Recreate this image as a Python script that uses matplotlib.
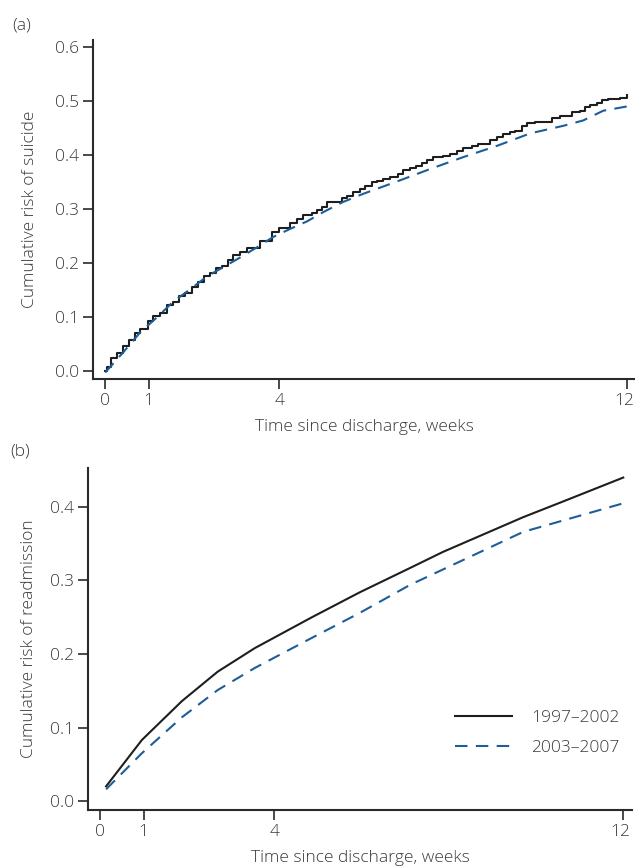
import matplotlib
matplotlib.use("Agg")
import matplotlib.pyplot as plt
import matplotlib.transforms as mtransforms
import numpy as np

plt.rcParams['font.family'] = ['Open Sans', 'DejaVu Sans']
plt.rcParams['font.weight'] = 'light'
plt.rcParams['axes.labelweight'] = 'light'

text_col = '#3a3a3a'
solid_col = '#1e1e1e'
dash_col = '#1d5e98'
fs = 12.5

# (a) cumulative risk of suicide, step curve for 1997-2002 (weeks, risk)
suicide_t_9702 = [0, 0.05, 0.14, 0.28, 0.41, 0.55, 0.69, 0.80, 0.99, 1.10, 1.26, 1.43, 1.56, 1.70,
                  1.84, 2.00, 2.14, 2.28, 2.41, 2.55, 2.69, 2.83, 2.94, 3.10, 3.26, 3.56, 3.84, 4.00,
                  4.25, 4.41, 4.55, 4.76, 4.87, 4.99, 5.10, 5.45, 5.56, 5.70, 5.86, 5.98, 6.14, 6.25,
                  6.39, 6.55, 6.74, 6.85, 7.01, 7.15, 7.29, 7.40, 7.54, 7.77, 7.93, 8.09, 8.23, 8.44,
                  8.57, 8.85, 9.01, 9.15, 9.31, 9.43, 9.59, 9.70, 9.89, 10.28, 10.46, 10.74, 10.92,
                  11.03, 11.15, 11.31, 11.43, 11.56, 11.84, 12.00]
suicide_y_9702 = [0, 0.007, 0.024, 0.034, 0.047, 0.058, 0.071, 0.078, 0.093, 0.101, 0.108, 0.123, 0.128, 0.138,
                  0.145, 0.156, 0.165, 0.175, 0.182, 0.190, 0.194, 0.205, 0.214, 0.220, 0.227, 0.240, 0.257, 0.264,
                  0.274, 0.281, 0.289, 0.292, 0.298, 0.304, 0.313, 0.320, 0.324, 0.331, 0.337, 0.343, 0.350, 0.352,
                  0.356, 0.359, 0.365, 0.372, 0.376, 0.380, 0.385, 0.391, 0.396, 0.398, 0.402, 0.408, 0.413, 0.417,
                  0.421, 0.428, 0.434, 0.438, 0.443, 0.445, 0.453, 0.460, 0.462, 0.469, 0.473, 0.480, 0.482,
                  0.488, 0.493, 0.497, 0.501, 0.503, 0.506, 0.512]

# (a) 2003-2007
suicide_t_0307 = [0, 0.41, 0.80, 1.20, 1.56, 1.95, 2.34, 2.71, 3.10, 3.49, 3.86, 4.25, 4.64, 5.01,
                  5.47, 5.93, 6.71, 7.47, 8.23, 9.01, 9.77, 10.53, 10.99, 11.45, 12.00]
suicide_y_0307 = [-0.003, 0.034, 0.071, 0.100, 0.128, 0.151, 0.175, 0.192, 0.210, 0.229, 0.248, 0.263, 0.277, 0.294,
                  0.313, 0.328, 0.351, 0.374, 0.396, 0.417, 0.440, 0.454, 0.464, 0.482, 0.490]

# (b) cumulative risk of readmission
readm_t_9702 = [0.14, 0.96, 1.88, 2.70, 3.55, 4.86, 5.96, 7.11, 7.87, 9.70, 10.6, 12.0]
readm_y_9702 = [0.020, 0.083, 0.136, 0.176, 0.208, 0.250, 0.284, 0.317, 0.339, 0.386, 0.407, 0.440]
readm_t_0307 = [0.14, 0.96, 1.88, 2.70, 3.55, 4.86, 5.96, 7.11, 9.70, 12.0]
readm_y_0307 = [0.016, 0.065, 0.114, 0.151, 0.181, 0.222, 0.256, 0.294, 0.366, 0.405]

x_ticks = [0, 1, 4, 12]
labels = ['1997\u20132002', '2003\u20132007']

fig = plt.figure(figsize=(6.35, 8.68), dpi=100)
ax_a = fig.add_axes([93/635, 1-379/868, (635-93)/635, (379-40)/868])
ax_b = fig.add_axes([88/635, 1-810/868, (632-88)/635, (810-468)/868])


def style_axis(ax):
    for s in ['top', 'right']:
        ax.spines[s].set_visible(False)
    for s in ['left', 'bottom']:
        ax.spines[s].set_linewidth(1.5)
        ax.spines[s].set_color('#2a2a2a')
    ax.tick_params(direction='out', length=7, width=1.2, color='#2a2a2a',
                   labelsize=fs, labelcolor=text_col, pad=3)
    ax.set_xticks(x_ticks)
    ax.set_xticklabels([str(t) for t in x_ticks])
    ax.set_xlabel('Time since discharge, weeks', fontsize=fs, color=text_col, labelpad=7)
    # last tick label sits at the figure edge, nudge it left a touch
    shift = mtransforms.ScaledTranslation(-3/100, 0, fig.dpi_scale_trans)
    last = ax.get_xticklabels()[-1]
    last.set_transform(last.get_transform() + shift)


ax_a.step(suicide_t_9702, suicide_y_9702, where='post', color=solid_col, lw=1.5)
ax_a.plot(suicide_t_0307, suicide_y_0307, color=dash_col, lw=1.5, dashes=(6, 4))
style_axis(ax_a)
ax_a.set_xlim(-0.28, 12.18)
ax_a.set_ylim(-0.015, 0.613)
ax_a.set_yticks([0.0, 0.1, 0.2, 0.3, 0.4, 0.5, 0.6])
ax_a.set_yticklabels(['0.0', '0.1', '0.2', '0.3', '0.4', '0.5', '0.6'])
ax_a.set_ylabel('Cumulative risk of suicide', fontsize=fs, color=text_col, labelpad=12)

ax_b.plot(readm_t_9702, readm_y_9702, color=solid_col, lw=1.5, label=labels[0])
ax_b.plot(readm_t_0307, readm_y_0307, color=dash_col, lw=1.5, dashes=(6, 4), label=labels[1])
style_axis(ax_b)
ax_b.set_xlim(-0.275, 12.2)
ax_b.set_ylim(-0.0122, 0.453)
ax_b.set_yticks([0.0, 0.1, 0.2, 0.3, 0.4])
ax_b.set_yticklabels(['0.0', '0.1', '0.2', '0.3', '0.4'])
ax_b.set_ylabel('Cumulative risk of readmission', fontsize=fs, color=text_col, labelpad=9)
leg = ax_b.legend(loc='center left', bbox_to_anchor=((455-88)/544, (810-733)/342), frameon=False,
                  fontsize=fs, handlelength=3.3, handletextpad=1.1, labelspacing=0.75,
                  borderpad=0, borderaxespad=0)
for t in leg.get_texts():
    t.set_color(text_col)

fig.text(22/635, 1-25/868, '(a)', fontsize=fs, color=text_col, ha='center', va='center')
fig.text(20/635, 1-452/868, '(b)', fontsize=fs, color=text_col, ha='center', va='center')

fig.savefig('out.png', dpi=100)
